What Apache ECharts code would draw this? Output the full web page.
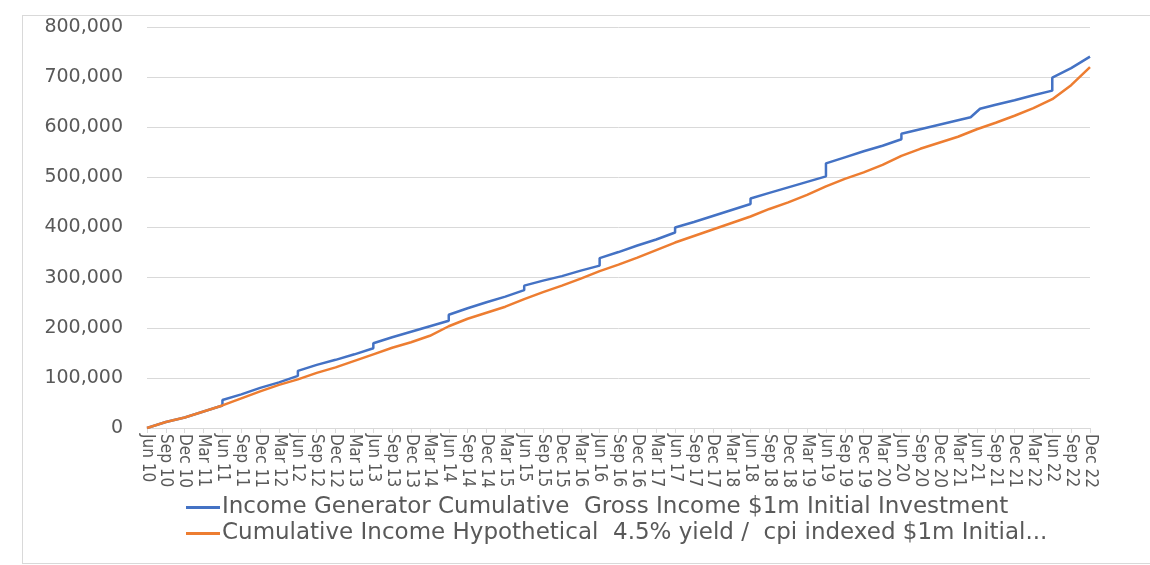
<!DOCTYPE html>
<html>
<head>
<meta charset="utf-8">
<title>Cumulative income</title>
<script src="https://cdn.jsdelivr.net/npm/echarts@6/dist/echarts.min.js"></script>
<style>
  html, body { margin: 0; padding: 0; background: #fff; overflow: hidden; }
  #frame { position: absolute; left: 22px; top: 15px; width: 1200px; height: 547px; border: 1px solid #d9d9d9; }
  #main { position: absolute; left: 0; top: 0; width: 1150px; height: 565px; }
</style>
</head>
<body>
<div id="frame"></div>
<div id="main"></div>
<script>
// quarter labels along the x axis (index 0 = Jun 10)
const quarterLabels = [
  'Jun 10', 'Sep 10', 'Dec 10', 'Mar 11', 'Jun 11', 'Sep 11', 'Dec 11', 'Mar 12',
  'Jun 12', 'Sep 12', 'Dec 12', 'Mar 13', 'Jun 13', 'Sep 13', 'Dec 13', 'Mar 14',
  'Jun 14', 'Sep 14', 'Dec 14', 'Mar 15', 'Jun 15', 'Sep 15', 'Dec 15', 'Mar 16',
  'Jun 16', 'Sep 16', 'Dec 16', 'Mar 17', 'Jun 17', 'Sep 17', 'Dec 17', 'Mar 18',
  'Jun 18', 'Sep 18', 'Dec 18', 'Mar 19', 'Jun 19', 'Sep 19', 'Dec 19', 'Mar 20',
  'Jun 20', 'Sep 20', 'Dec 20', 'Mar 21', 'Jun 21', 'Sep 21', 'Dec 21', 'Mar 22',
  'Jun 22', 'Sep 22', 'Dec 22'
];

const seriesNames = [
  'Income Generator Cumulative  Gross Income $1m Initial Investment',
  'Cumulative Income Hypothetical  4.5% yield /  cpi indexed $1m Initial...'
];

// [quarter index, cumulative income in $000] - repeated index = June distribution jump
const generatorIncome = [
  [0, 0], [1, 12], [2, 21], [3, 33], [4, 45], [4, 56],
  [5, 67], [6, 80], [7, 91], [8, 104], [8, 114],
  [9, 126], [10, 136], [11, 147], [12, 159], [12, 169],
  [13, 181], [14, 192], [15, 203], [16, 214], [16, 226],
  [17, 239], [18, 251], [19, 262], [20, 275], [20, 284],
  [21, 294], [22, 303], [23, 314], [24, 324], [24, 339],
  [25, 351], [26, 364], [27, 376], [28, 390], [28, 400],
  [29, 411], [30, 423], [31, 435], [32, 447], [32, 458],
  [33, 469], [34, 480], [35, 491], [36, 502], [36, 528],
  [37, 540], [38, 552], [39, 563], [40, 576], [40, 587],
  [41, 596], [42, 605], [43, 614], [43.67, 620], [44.17, 637],
  [45, 645], [46, 654], [47, 664], [48, 673], [48, 699],
  [49, 718], [50, 741]
];

const hypotheticalIncome = [
  [0, 0], [1, 12], [2, 21], [3, 33], [4, 45],
  [5, 59], [6, 73], [7, 86], [8, 97],
  [9, 110], [10, 121], [11, 134], [12, 147],
  [13, 160], [14, 171], [15, 184], [16, 203],
  [17, 218], [18, 230], [19, 242], [20, 257],
  [21, 271], [22, 284], [23, 298], [24, 313],
  [25, 326], [26, 340], [27, 355], [28, 370],
  [29, 383], [30, 396], [31, 409], [32, 422],
  [33, 437], [34, 450], [35, 465], [36, 482],
  [37, 497], [38, 510], [39, 525], [40, 543],
  [41, 557], [42, 569], [43, 581], [44, 596],
  [45, 609], [46, 623], [47, 638], [48, 656],
  [49, 684], [50, 720]
];

const toDollars = pts => pts.map(p => [p[0], p[1] * 1000]);

const chart = echarts.init(document.getElementById('main'));

const option = {
  animation: false,
  color: ['#4472C4', '#ED7D31'],
  grid: { left: 147, right: 60, top: 27, bottom: 137 },
  legend: {
    orient: 'vertical',
    left: 186,
    top: 496,
    padding: 0,
    itemGap: 3,
    itemWidth: 34,
    itemHeight: 3,
    icon: 'rect',
    textStyle: {
      color: '#595959',
      fontSize: 23,
      lineHeight: 22,
      fontFamily: "'DejaVu Sans', sans-serif",
      padding: [0, 0, 0, -3]
    },
    data: seriesNames
  },
  xAxis: {
    type: 'value',
    min: 0,
    max: quarterLabels.length - 1,
    interval: 1,
    splitLine: { show: false },
    axisLine: { lineStyle: { color: '#d9d9d9', width: 1 } },
    axisTick: { show: true, length: 5, lineStyle: { color: '#d9d9d9' } },
    axisLabel: {
      rotate: -90,
      margin: 6,
      color: '#595959',
      fontSize: 17,
      fontFamily: "'Liberation Sans Narrow', 'DejaVu Sans Condensed', sans-serif",
      formatter: v => quarterLabels[v] || ''
    }
  },
  yAxis: {
    type: 'value',
    min: 0,
    max: 800000,
    interval: 100000,
    axisLine: { show: false },
    axisTick: { show: false },
    splitLine: { lineStyle: { color: '#d9d9d9', width: 1 } },
    axisLabel: {
      margin: 24,
      color: '#595959',
      fontSize: 19,
      fontFamily: "'DejaVu Sans', sans-serif",
      formatter: v => v.toLocaleString('en-US')
    }
  },
  series: [
    {
      name: seriesNames[0],
      type: 'line',
      data: toDollars(generatorIncome),
      showSymbol: false,
      lineStyle: { width: 2.5 }
    },
    {
      name: seriesNames[1],
      type: 'line',
      data: toDollars(hypotheticalIncome),
      showSymbol: false,
      lineStyle: { width: 2.5 }
    }
  ]
};

chart.setOption(option);
window.addEventListener('resize', () => chart.resize());
</script>
</body>
</html>
